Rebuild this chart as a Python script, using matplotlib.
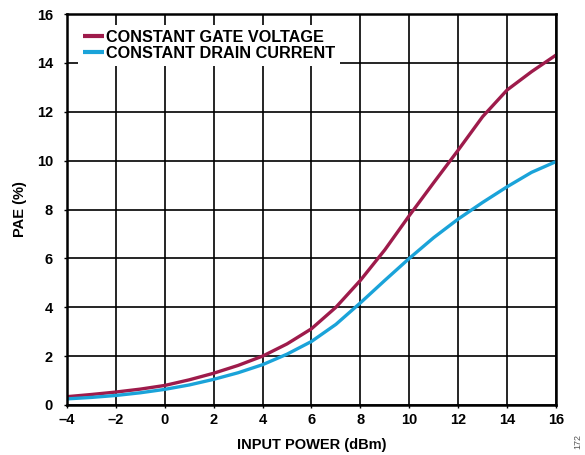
import matplotlib
matplotlib.use("Agg")
import matplotlib.pyplot as plt

plt.rcParams['font.family'] = ['Liberation Sans', 'DejaVu Sans']

input_power = [-4, -3, -2, -1, 0, 1, 2, 3, 4, 5, 6, 7, 8, 9, 10, 11, 12, 13, 14, 15, 16]
pae_gate_voltage = [0.34, 0.43, 0.53, 0.65, 0.80, 1.03, 1.30, 1.62, 2.00, 2.50, 3.12,
                    4.00, 5.10, 6.35, 7.75, 9.10, 10.43, 11.80, 12.89, 13.64, 14.32]
pae_drain_current = [0.25, 0.31, 0.39, 0.50, 0.64, 0.82, 1.05, 1.32, 1.65, 2.08, 2.60,
                     3.30, 4.18, 5.10, 6.00, 6.85, 7.61, 8.29, 8.93, 9.52, 9.96]
x_ticks = list(range(-4, 17, 2))
x_tick_labels = ['\u20134', '\u20132', '0', '2', '4', '6', '8', '10', '12', '14', '16']
y_ticks = list(range(0, 17, 2))

fig = plt.figure(figsize=(5.85, 4.55), dpi=100)
ax = fig.add_axes([0.1145, 0.1099, 0.8359, 0.8593])

ax.plot(input_power, pae_gate_voltage, color='#9E1B4B', lw=2.4,
        label='CONSTANT GATE VOLTAGE', solid_capstyle='butt', zorder=3)
ax.plot(input_power, pae_drain_current, color='#1AA3D9', lw=2.4,
        label='CONSTANT DRAIN CURRENT', solid_capstyle='butt', zorder=3)

ax.set_xlim(-4, 16)
ax.set_ylim(0, 16)
ax.set_xticks(x_ticks)
ax.set_xticklabels(x_tick_labels)
ax.set_yticks(y_ticks)
ax.grid(True, color='black', lw=1.2)
ax.set_axisbelow(True)
ax.tick_params(axis='both', direction='out', length=2, width=1, labelsize=10.5)
ax.tick_params(axis='x', pad=4)
ax.tick_params(axis='y', pad=8)
for lbl in ax.get_xticklabels() + ax.get_yticklabels():
    lbl.set_fontweight('bold')
for sp in ax.spines.values():
    sp.set_linewidth(1.8)
    sp.set_zorder(4)

ax.set_xlabel('INPUT POWER (dBm)', fontsize=10.5, fontweight='bold', labelpad=8)
ax.set_ylabel('PAE (%)', fontsize=10.5, fontweight='bold', labelpad=7)

leg = ax.legend(loc='upper left', bbox_to_anchor=(0.022, 0.972), frameon=True,
                fancybox=False, edgecolor='none', framealpha=1,
                prop={'weight': 'bold', 'size': 11.7}, handlelength=1.3,
                handletextpad=0.15, labelspacing=0.06, borderpad=0.3,
                borderaxespad=0)
leg.set_zorder(5)
for h in leg.get_lines():
    h.set_linewidth(3)

fig.text(0.987, 0.03, '172', rotation=90, fontsize=6.5, color='#555555',
         ha='center', va='center')

fig.savefig('out.png', dpi=100)
